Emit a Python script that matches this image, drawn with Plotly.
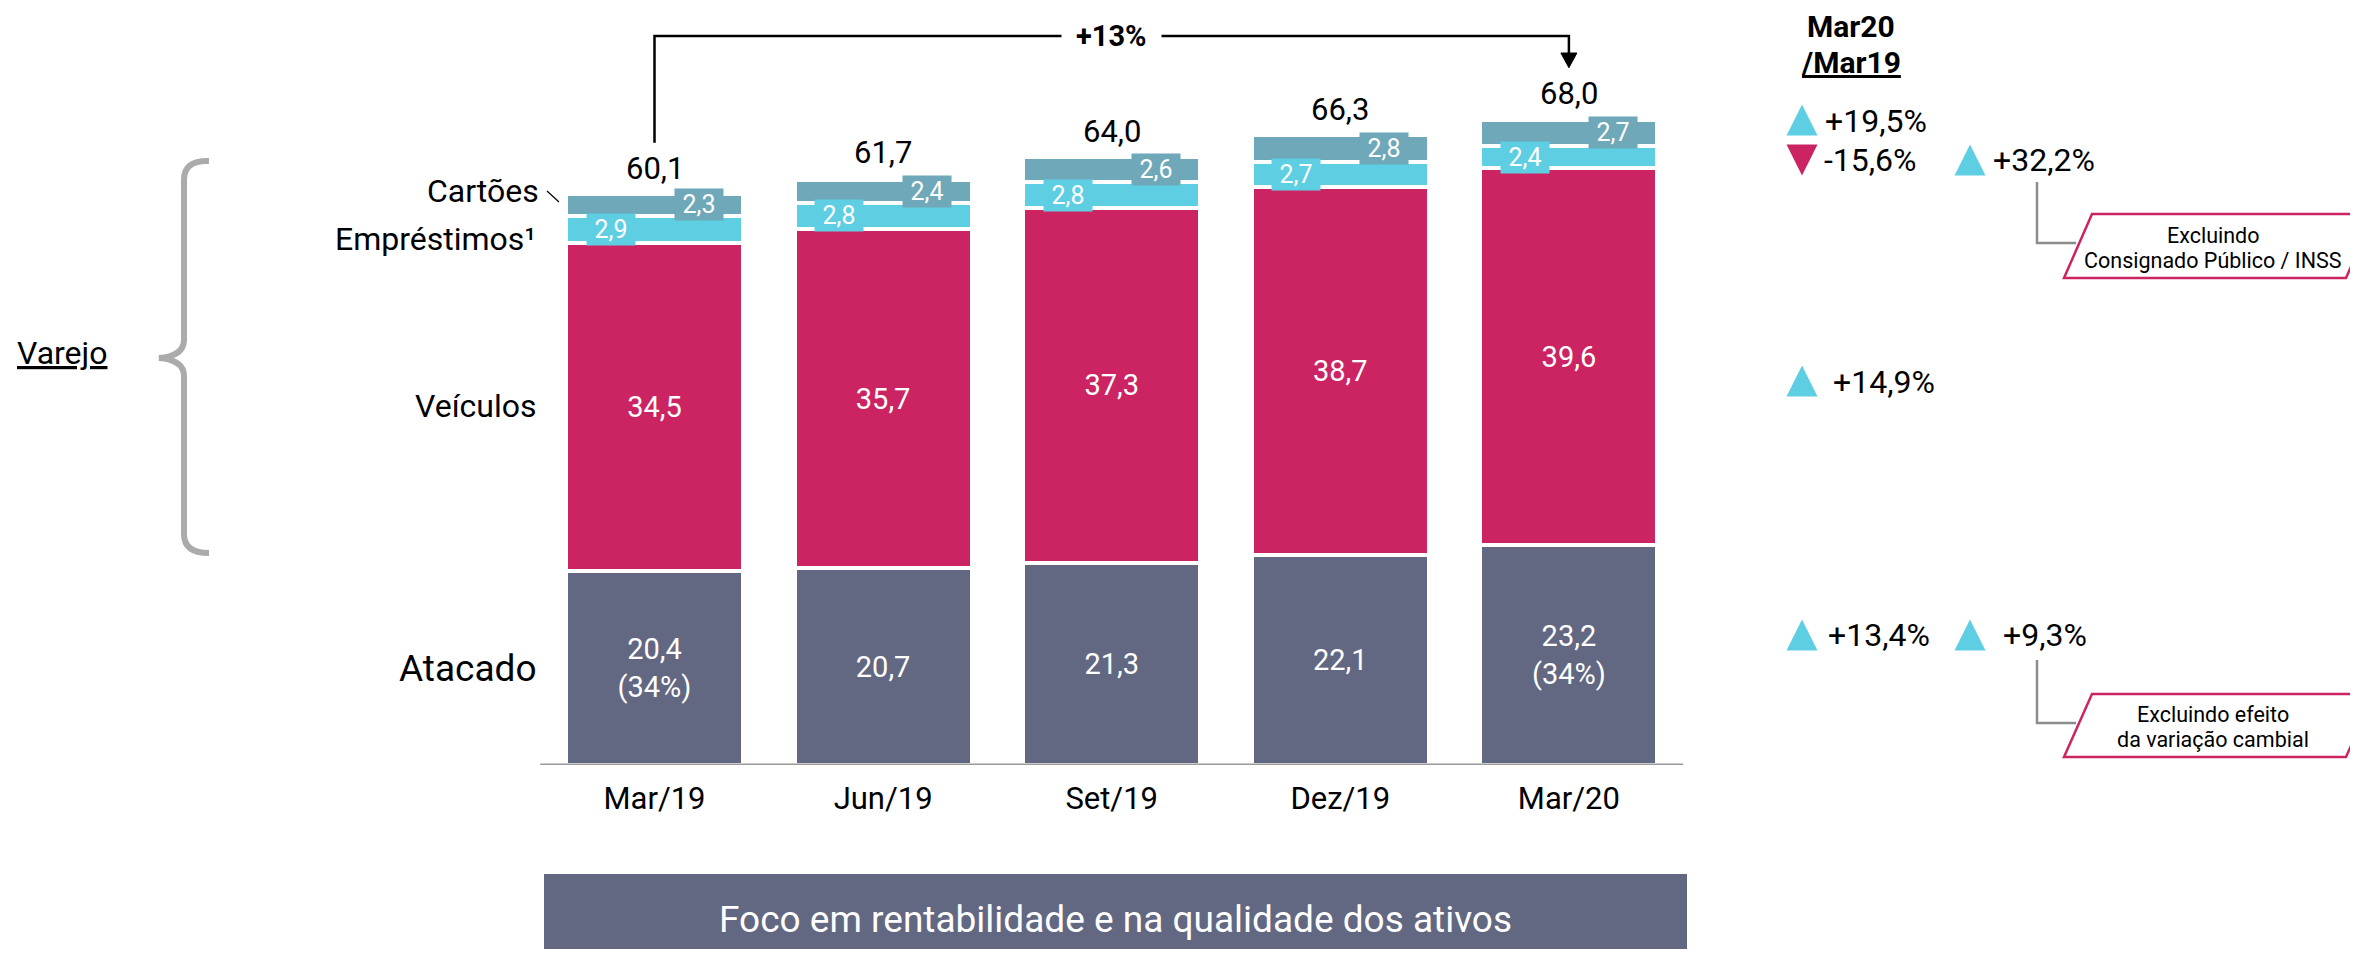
import plotly.graph_objects as go

# ---------------- data ----------------
categories = ["Mar/19", "Jun/19", "Set/19", "Dez/19", "Mar/20"]
atacado = [20.4, 20.7, 21.3, 22.1, 23.2]
veiculos = [34.5, 35.7, 37.3, 38.7, 39.6]
emprestimos = [2.9, 2.8, 2.8, 2.7, 2.4]
cartoes = [2.3, 2.4, 2.6, 2.8, 2.7]
totals = [60.1, 61.7, 64.0, 66.3, 68.0]
atacado_share = ["(34%)", "", "", "", "(34%)"]
growth_total = "+13%"

side_header = ["Mar20", "/Mar19"]
var_cartoes = "+19,5%"
var_emprestimos = "-15,6%"
var_emprestimos_excl = "+32,2%"
var_veiculos = "+14,9%"
var_atacado = "+13,4%"
var_atacado_excl = "+9,3%"
note_emprestimos = ["Excluindo", "Consignado Público / INSS"]
note_atacado = ["Excluindo efeito", "da variação cambial"]
banner_text = "Foco em rentabilidade e na qualidade dos ativos"

# ---------------- style ----------------
C_ATA = "#626782"
C_VEI = "#cc2462"
C_EMP = "#5ecfe3"
C_CAR = "#6fa8b8"
FONT = "Roboto"
OFF = 8                      # default page body margin
FW, FH = 2358 - 2 * OFF, 957 - 2 * OFF
BASE_Y = 765                 # screen y of the baseline
PH = BASE_Y - OFF            # plot area height (top margin 0)
SCALE = 9.5                  # px per unit
YMAX = PH / SCALE
STEP = 228.6
C0 = 654.5 - OFF
XR = [-C0 / STEP, -C0 / STEP + FW / STEP]


def fmt(v):
    return f"{v:.1f}".replace(".", ",")


def px(sx):
    return (sx - OFF) / FW


def py(sy):
    return (BASE_Y - sy) / PH


def P(a, b):
    return f"{px(a)},{py(b)}"


fig = go.Figure()

line = dict(color="white", width=4)
fig.add_bar(x=categories, y=atacado, marker=dict(color=C_ATA, line=line),
            text=[fmt(v) + ("<br>" + s if s else "") for v, s in zip(atacado, atacado_share)],
            textposition="inside", insidetextanchor="middle", constraintext="none",
            textfont=dict(size=29, color="white", family=FONT), name="Atacado")
fig.add_bar(x=categories, y=veiculos, marker=dict(color=C_VEI, line=line),
            text=[fmt(v) for v in veiculos],
            textposition="inside", insidetextanchor="middle", constraintext="none",
            textfont=dict(size=29, color="white", family=FONT), name="Veículos")
fig.add_bar(x=categories, y=emprestimos, marker=dict(color=C_EMP, line=line), name="Empréstimos")
fig.add_bar(x=categories, y=cartoes, marker=dict(color=C_CAR, line=line), name="Cartões")
fig.update_traces(width=0.774, hoverinfo="skip")

ann = []
shapes = []

# small segment labels + totals
for i, c in enumerate(categories):
    base_emp = atacado[i] + veiculos[i]
    ann.append(dict(x=c, y=base_emp + emprestimos[i] / 2, xref="x", yref="y",
                    text=fmt(emprestimos[i]), showarrow=False, xshift=-44,
                    xanchor="center", yanchor="middle",
                    font=dict(size=25, color="white", family=FONT),
                    bgcolor=C_EMP, width=44, height=27, borderpad=2))
    base_car = base_emp + emprestimos[i]
    ann.append(dict(x=c, y=base_car + cartoes[i] / 2, xref="x", yref="y",
                    text=fmt(cartoes[i]), showarrow=False, xshift=44,
                    xanchor="center", yanchor="middle",
                    font=dict(size=25, color="white", family=FONT),
                    bgcolor=C_CAR, width=44, height=27, borderpad=2))
    ann.append(dict(x=c, y=totals[i], xref="x", yref="y", text=fmt(totals[i]),
                    showarrow=False, yshift=26, yanchor="middle", xanchor="center",
                    font=dict(size=31, color="black", family=FONT)))

# growth arrow
n = len(categories) - 1
y_top = (BASE_Y - 36) / SCALE
y_head = (BASE_Y - 53) / SCALE
shapes.append(dict(type="path", xref="x", yref="y",
                   path=f"M 0,{totals[0] + 5.4} L 0,{y_top} L {n},{y_top} L {n},{y_head}",
                   line=dict(color="black", width=2.5)))
shapes.append(dict(type="path", xref="x", yref="y",
                   path=f"M {n - 0.035},{y_head} L {n + 0.035},{y_head} L {n},{totals[-1] + 5.4} Z",
                   fillcolor="black", line=dict(color="black", width=1)))
ann.append(dict(x=n / 2, y=y_top, xref="x", yref="y", text=f"<b>{growth_total}</b>",
                showarrow=False, bgcolor="white", borderpad=14,
                xanchor="center", yanchor="middle",
                font=dict(size=29, color="black", family=FONT)))

# baseline
shapes.append(dict(type="line", xref="x", yref="y", x0=-0.5, x1=n + 0.5, y0=0, y1=0,
                   line=dict(color="#9a9a9a", width=3)))


def text_at(text, sx, sy, size, anchor="center", color="black"):
    ann.append(dict(x=px(sx), y=py(sy), xref="paper", yref="paper", text=text,
                    showarrow=False, xanchor=anchor, yanchor="middle",
                    font=dict(size=size, color=color, family=FONT)))


# left labels
text_at("Cartões", 541, 191, 32, "right")
text_at("Empréstimos¹", 538, 239, 32, "right")
text_at("Veículos", 539, 406, 32, "right")
text_at("Atacado", 539, 668, 37, "right")
shapes.append(dict(type="line", xref="paper", yref="paper", x0=px(547), y0=py(191),
                   x1=px(559), y1=py(202), line=dict(color="black", width=1.2)))
text_at("<u>Varejo</u>", 15, 353, 32, "left")

# curly bracket
brace = (f"M {P(209, 161)} Q {P(184, 160)} {P(184, 180)} L {P(184, 340)} "
         f"Q {P(184, 356)} {P(159, 358)} Q {P(184, 360)} {P(184, 376)} "
         f"L {P(184, 534)} Q {P(184, 553)} {P(209, 553)}")
shapes.append(dict(type="path", xref="paper", yref="paper", path=brace,
                   line=dict(color="#ababab", width=6)))

# right panel
text_at(f"<b>{side_header[0]}</b>", 1851, 27, 30)
text_at(f"<b><u>{side_header[1]}</u></b>", 1851, 63, 30)


def tri(cx, cy, up, color):
    h = 15.5
    if up:
        path = f"M {P(cx - h, cy + h)} L {P(cx + h, cy + h)} L {P(cx, cy - h)} Z"
    else:
        path = f"M {P(cx - h, cy - h)} L {P(cx + h, cy - h)} L {P(cx, cy + h)} Z"
    shapes.append(dict(type="path", xref="paper", yref="paper", path=path,
                       fillcolor=color, line=dict(width=0)))


tri(1802, 120, True, C_EMP); text_at(var_cartoes, 1823, 121, 32, "left")
tri(1802, 160, False, C_VEI); text_at(var_emprestimos, 1822, 160, 32, "left")
tri(1970, 160, True, C_EMP); text_at(var_emprestimos_excl, 1991, 160, 32, "left")
tri(1802, 381, True, C_EMP); text_at(var_veiculos, 1831, 382, 32, "left")
tri(1802, 635, True, C_EMP); text_at(var_atacado, 1826, 635, 32, "left")
tri(1970, 635, True, C_EMP); text_at(var_atacado_excl, 2001, 635, 32, "left")

# connectors and callouts
for (y0, y1, top, bot, lines) in [(182, 243, 214, 278, note_emprestimos),
                                   (660, 723, 694, 757, note_atacado)]:
    shapes.append(dict(type="path", xref="paper", yref="paper",
                       path=f"M {P(2037, y0)} L {P(2037, y1)} L {P(2076, y1)}",
                       line=dict(color="#8c8c8c", width=2.5)))
    shapes.append(dict(type="path", xref="paper", yref="paper",
                       path=f"M {P(2092, top)} L {P(2374, top)} L {P(2346, bot)} L {P(2064, bot)} Z",
                       fillcolor="white", line=dict(color=C_VEI, width=2.5)))
    mid = (top + bot) / 2
    for k, t in enumerate(lines):
        text_at(t, 2213, mid - 11 + 25 * k, 21.5)

# banner
shapes.append(dict(type="rect", xref="paper", yref="paper", x0=px(544), x1=px(1687),
                   y0=py(874), y1=py(960), fillcolor=C_ATA, line=dict(width=0), layer="below"))
text_at(banner_text, 1115, 919, 37, "center", "white")

fig.update_layout(
    width=FW, height=FH, barmode="stack", showlegend=False,
    paper_bgcolor="white", plot_bgcolor="white",
    margin=dict(l=0, r=0, t=0, b=FH - PH, pad=0),
    xaxis=dict(type="category", range=XR, showgrid=False, zeroline=False, showline=False,
               ticks="", tickfont=dict(size=31, color="black", family=FONT),
               ticklabelstandoff=12, fixedrange=True),
    yaxis=dict(range=[0, YMAX], visible=False, fixedrange=True),
    annotations=ann, shapes=shapes,
    font=dict(family=FONT, color="black"),
)

fig.write_html("out.html")
